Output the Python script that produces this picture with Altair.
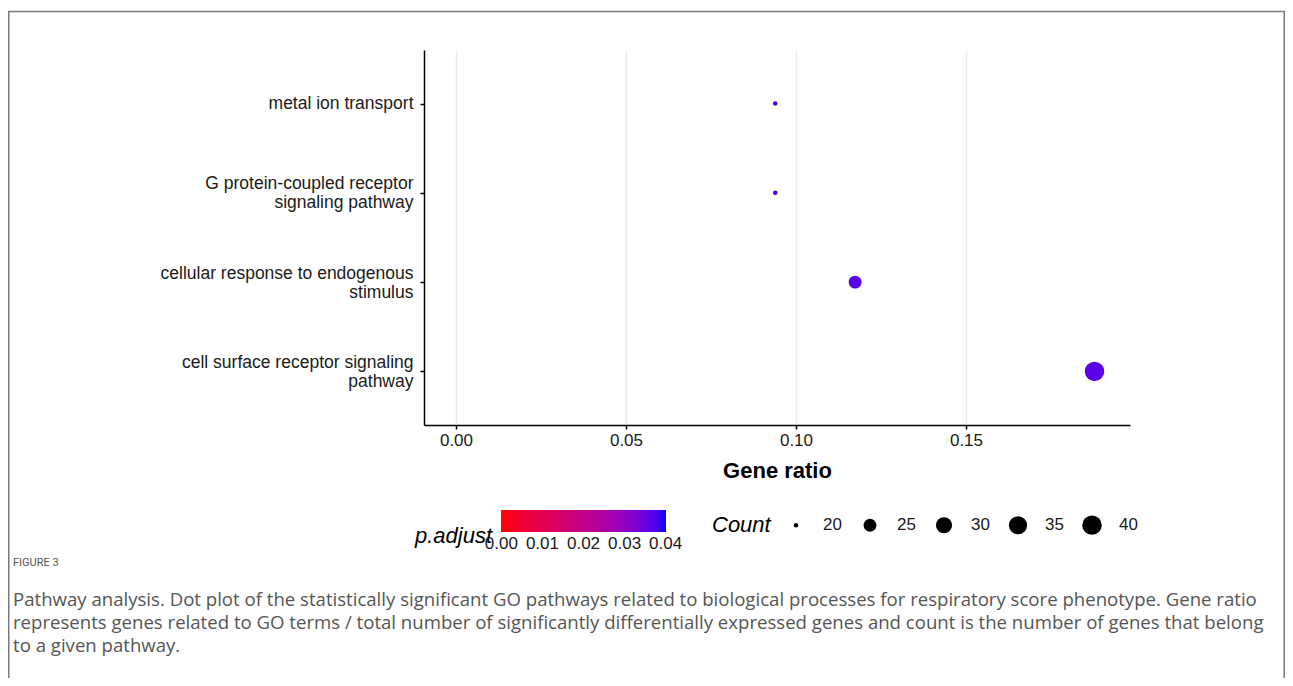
import altair as alt
import pandas as pd

# ---- data ----
pathways = [
    "metal ion transport",
    "G protein-coupled receptor\nsignaling pathway",
    "cellular response to endogenous\nstimulus",
    "cell surface receptor signaling\npathway",
]
gene_ratio = [0.0939, 0.0939, 0.1174, 0.1878]
counts = [20, 20, 25, 40]
p_adjust = [0.038, 0.038, 0.0365, 0.0365]

x_ticks = [0.00, 0.05, 0.10, 0.15]
count_breaks = [20, 25, 30, 35, 40]
padj_breaks = [0.00, 0.01, 0.02, 0.03, 0.04]

figure_label = ["FIGURE 3"]
caption_lines = [
    "Pathway analysis. Dot plot of the statistically significant GO pathways related to biological processes for respiratory score phenotype. Gene ratio",
    "represents genes related to GO terms / total number of significantly differentially expressed genes and count is the number of genes that belong",
    "to a given pathway.",
]

df = pd.DataFrame({
    "Description": pathways,
    "GeneRatio": gene_ratio,
    "Count": counts,
    "padj": p_adjust,
})

FONT = "Liberation Sans"

points = alt.Chart(df).mark_circle(opacity=1).encode(
    x=alt.X(
        "GeneRatio:Q",
        scale=alt.Scale(domain=[-0.00941, 0.19824], nice=False, zero=False),
        axis=alt.Axis(values=x_ticks, format=".2f", title="Gene ratio",
                      labelFontSize=17, labelPadding=3, titleFontSize=22,
                      titleFontWeight="bold", titlePadding=12, titleColor="black"),
    ),
    y=alt.Y(
        "Description:N",
        sort=pathways,
        scale=alt.Scale(type="point", padding=0.6),
        axis=alt.Axis(
            title=None, labelExpr="split(datum.label, '\\n')",
            labelFontSize=17.5, labelLineHeight=19, labelLimit=400,
            labelPadding=7, labelAlign="right",
            labelBaseline=alt.condition("indexof(datum.value, '\\n') >= 0",
                                        alt.value("line-bottom"), alt.value("middle")),
        ),
    ),
    size=alt.Size(
        "Count:Q",
        scale=alt.Scale(type="pow", exponent=-1, domain=[20, 40], range=[21, 380], zero=False),
        legend=alt.Legend(
            title="Count", values=count_breaks, orient="none",
            legendX=288, legendY=465, direction="horizontal", columns=5,
            titleOrient="left", titleAnchor="middle", titleBaseline="middle",
            titlePadding=15, labelOffset=17, columnPadding=18,
            symbolFillColor="black", symbolStrokeWidth=0, symbolType="circle",
        ),
    ),
    color=alt.Color(
        "padj:Q",
        scale=alt.Scale(domain=[-0.0001, 0.0401], range=["red", "blue"], interpolate="lab"),
        legend=alt.Legend(
            title="p.adjust", values=padj_breaks, format=".2f", orient="none",
            legendX=-9, legendY=460, direction="horizontal",
            gradientLength=165, gradientThickness=22, gradientStrokeWidth=0,
            labelOverlap=False, labelOffset=4,
            titleOrient="left", titleAnchor="end", titleBaseline="line-top",
            titleLineHeight=9, titlePadding=8,
        ),
    ),
)

frame = alt.Chart(alt.Data(values=[{"frame": 1}])).mark_rect(
    fill="transparent", stroke="#7a7a7a", strokeWidth=1.5
).encode(
    x=alt.value(-415.25), x2=alt.value(860.25),
    y=alt.value(-38.5), y2=alt.value(700),
)

fig_label = alt.Chart(alt.Data(values=[{"t": t} for t in figure_label])).mark_text(
    align="left", baseline="middle", font="Roboto", fontSize=11, color="#555555",
).encode(text="t:N", x=alt.value(-411), y=alt.value(513))

caption = alt.Chart(alt.Data(values=[{"t": "\n".join(caption_lines)}])).mark_text(
    align="left", baseline="middle", font="Open Sans", fontSize=18.6, color="#555555",
    lineBreak="\n", lineHeight=23,
).encode(text="t:N", x=alt.value(-411), y=alt.value(550))

chart = alt.layer(frame, points, fig_label, caption).properties(
    width=706,
    height=375,
    autosize=alt.AutoSizeParams(type="none"),
    padding={"left": 416, "top": 42, "right": 155, "bottom": 253},
).configure_view(
    stroke=None
).configure_axis(
    labelFont=FONT, titleFont=FONT, labelColor="#1a1a1a",
    domainColor="black", domainWidth=1.5, tickColor="black", tickWidth=1.5,
    tickSize=4, gridColor="#EBEBEB", gridWidth=1.5,
).configure_legend(
    titleFont=FONT, labelFont=FONT, titleFontSize=22, titleFontStyle="italic",
    titleFontWeight="normal", titleColor="black", labelFontSize=17,
    labelColor="#1a1a1a", symbolBaseFillColor="black",
)

chart.save("out.html", embed_options={"renderer": "svg", "actions": False})
